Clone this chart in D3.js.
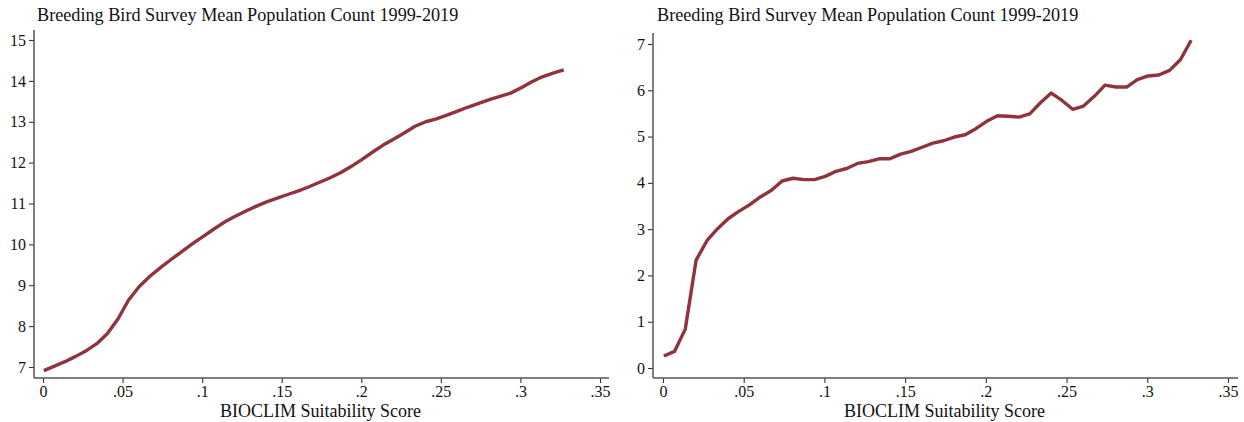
<!DOCTYPE html>
<html>
<head>
<meta charset="utf-8">
<script src="https://cdn.jsdelivr.net/npm/d3@7"></script>
<style>
  html, body { margin: 0; padding: 0; background: #fff; }
  svg { display: block; }
  text { font-family: "Liberation Serif", "DejaVu Serif", serif; fill: #111; }
</style>
</head>
<body>
<svg id="chart" width="1244" height="422"></svg>
<script>
// BIOCLIM suitability score bins (bin centres)
const suitability = [
  0.0005, 0.0072, 0.0138, 0.0205, 0.0272, 0.0338, 0.0405, 0.0472, 0.0538, 0.0605,
  0.0672, 0.0738, 0.0805, 0.0872, 0.0938, 0.1005, 0.1072, 0.1138, 0.1205, 0.1272,
  0.1338, 0.1405, 0.1472, 0.1538, 0.1605, 0.1672, 0.1738, 0.1805, 0.1872, 0.1938,
  0.2005, 0.2072, 0.2138, 0.2205, 0.2272, 0.2338, 0.2405, 0.2472, 0.2538, 0.2605,
  0.2672, 0.2738, 0.2805, 0.2872, 0.2938, 0.3005, 0.3072, 0.3138, 0.3205, 0.3272
];

// Left panel: mean population count
const countLeft = [
  6.91, 7.02, 7.13, 7.26, 7.40, 7.57, 7.82, 8.18, 8.64, 8.97,
  9.22, 9.43, 9.63, 9.82, 10.01, 10.19, 10.37, 10.54, 10.68, 10.81,
  10.93, 11.04, 11.13, 11.22, 11.31, 11.41, 11.52, 11.63, 11.76, 11.91,
  12.08, 12.26, 12.43, 12.58, 12.73, 12.89, 13.00, 13.07, 13.16, 13.26,
  13.36, 13.45, 13.54, 13.62, 13.70, 13.83, 13.98, 14.10, 14.19, 14.27
];

// Right panel: mean population count
const countRight = [
  0.26, 0.36, 0.84, 2.33, 2.75, 3.01, 3.23, 3.39, 3.53, 3.70,
  3.84, 4.04, 4.10, 4.07, 4.07, 4.14, 4.25, 4.31, 4.42, 4.46,
  4.52, 4.52, 4.62, 4.68, 4.77, 4.86, 4.91, 4.99, 5.04, 5.17,
  5.33, 5.45, 5.44, 5.42, 5.49, 5.73, 5.94, 5.78, 5.59, 5.66,
  5.87, 6.11, 6.07, 6.07, 6.23, 6.31, 6.33, 6.43, 6.66, 7.08
];

const xTicks = [0, 0.05, 0.1, 0.15, 0.2, 0.25, 0.3, 0.35];
const xTickLabels = ["0", ".05", ".1", ".15", ".2", ".25", ".3", ".35"];
const yTicksLeft = [7, 8, 9, 10, 11, 12, 13, 14, 15];
const yTicksRight = [0, 1, 2, 3, 4, 5, 6, 7];

const titleText = "Breeding Bird Survey Mean Population Count 1999-2019";
const xTitleText = "BIOCLIM Suitability Score";

const serif = '"Liberation Serif", "DejaVu Serif", serif';
const lineColor = "#8f343c";
const axisColor = "#555";

const svg = d3.select("#chart");

const panels = [
  {
    values: countLeft, yTicks: yTicksLeft, yDomain: [7, 15],
    xRange: [43, 600], yRange: [367, 40],
    axisX: 34, axisTop: 30, axisRight: 609, axisY: 378, titleX: 37
  },
  {
    values: countRight, yTicks: yTicksRight, yDomain: [0, 7],
    xRange: [663, 1228], yRange: [368, 44],
    axisX: 653, axisTop: 33, axisRight: 1238, axisY: 378, titleX: 657
  }
];

panels.forEach(p => {
  const x = d3.scaleLinear().domain([0, 0.35]).range(p.xRange);
  const y = d3.scaleLinear().domain(p.yDomain).range(p.yRange);
  const g = svg.append("g");

  // y axis
  const yAxis = d3.axisLeft(y).tickValues(p.yTicks).tickSize(5).tickPadding(3)
    .tickFormat(d3.format("d"));
  const gy = g.append("g").attr("transform", `translate(${p.axisX},0)`).call(yAxis);
  gy.select(".domain").remove();
  gy.append("line")
    .attr("x1", 0).attr("x2", 0)
    .attr("y1", p.axisTop).attr("y2", p.axisY)
    .attr("stroke", axisColor).attr("stroke-width", 1.5);

  // x axis
  const xAxis = d3.axisBottom(x).tickValues(xTicks).tickSize(5).tickPadding(3)
    .tickFormat((d, i) => xTickLabels[i]);
  const gx = g.append("g").attr("transform", `translate(0,${p.axisY})`).call(xAxis);
  gx.select(".domain").remove();
  gx.append("line")
    .attr("x1", p.axisX).attr("x2", p.axisRight)
    .attr("y1", 0).attr("y2", 0)
    .attr("stroke", axisColor).attr("stroke-width", 1.5);

  [gx, gy].forEach(a => {
    a.attr("font-family", serif).attr("font-size", 16);
    a.selectAll(".tick line").attr("stroke", "#333").attr("stroke-width", 1.1);
    a.selectAll(".tick text")
      .attr("font-family", serif)
      .attr("font-size", 16)
      .attr("fill", "#111");
  });

  // series line
  const line = d3.line()
    .x((d, i) => x(suitability[i]))
    .y(d => y(d));
  g.append("path")
    .datum(p.values)
    .attr("fill", "none")
    .attr("stroke", lineColor)
    .attr("stroke-width", 3.4)
    .attr("stroke-linejoin", "round")
    .attr("d", line);

  // panel title
  g.append("text")
    .attr("x", p.titleX).attr("y", 21)
    .style("font-size", "18.2px")
    .text(titleText);

  // x axis title
  g.append("text")
    .attr("x", (p.axisX + p.axisRight) / 2 - 1).attr("y", 417)
    .attr("text-anchor", "middle")
    .style("font-size", "18px")
    .text(xTitleText);
});
</script>
</body>
</html>
